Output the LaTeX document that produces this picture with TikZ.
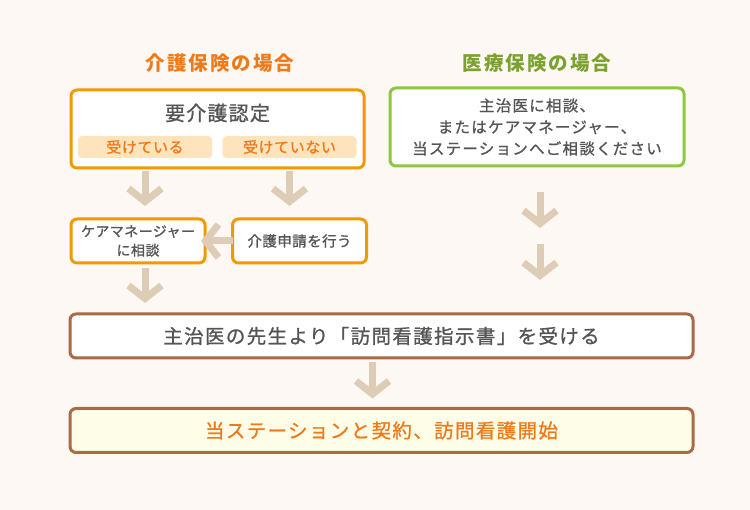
\documentclass[tikz,border=0pt]{standalone}
\usepackage{fontspec}
\setmainfont{Noto Sans CJK JP}
\usetikzlibrary{arrows.meta,positioning,calc}
\definecolor{bgcream}{HTML}{FDF8F3}
\definecolor{kaigoline}{HTML}{F39800}
\definecolor{kaigotext}{HTML}{EF7A1A}
\definecolor{iryoline}{HTML}{8DC63F}
\definecolor{iryotext}{HTML}{7BA22E}
\definecolor{flowtan}{HTML}{DDCCB6}
\definecolor{brownline}{HTML}{A86B48}
\definecolor{textgray}{HTML}{555555}
\definecolor{subfill}{HTML}{FDE4BC}
\definecolor{startfill}{HTML}{FEFEE8}
\newcommand\jpsize[3]{\fontsize{#1}{#2}\selectfont\addfontfeature{LetterSpace=#3,FakeBold=1}}

\begin{document}
\begin{tikzpicture}[
  x=1pt,y=1pt,
  title/.style={font=\bfseries\fontsize{19.5}{22}\selectfont\addfontfeature{LetterSpace=10}},
  box/.style={rectangle,rounded corners=6pt,line width=3pt,fill=white,
    align=center,text=textgray,outer sep=0pt},
  obox/.style={box,draw=kaigoline,minimum width=134,minimum height=44,
    font=\jpsize{14}{19}{3}},
  gbox/.style={box,draw=iryoline,font=\jpsize{15.5}{21.5}{8}},
  bbox/.style={box,draw=brownline,minimum width=623,minimum height=44,
    font=\jpsize{19.5}{22}{7}},
  subbox/.style={rectangle,rounded corners=4pt,fill=subfill,text=kaigotext,
    minimum width=134,minimum height=22,inner sep=0pt,
    font=\jpsize{15}{18}{4}},
  flow/.style={draw=flowtan,line width=7pt,
    -{Straight Barb[length=13pt,width=33pt]}}
]
  \fill[bgcream] (0,0) rectangle (750,510);
  \useasboundingbox (0,0) rectangle (750,510);

  \node[title,text=kaigotext] (kaigo) at (220,447) {介護保険の場合};
  \node[title,text=iryotext] (iryo) at (537,447) {医療保険の場合};

  \node[obox,minimum width=293,minimum height=78] (nintei) at (217.5,381) {};
  \node[text=textgray,font=\jpsize{20}{22}{6}] (nintei-t) at (217.5,397) {要介護認定};
  \node[subbox] (ukeru) at (145,363) {受けている};
  \node[subbox] (ukenai) at (289.5,363) {受けていない};

  \node[gbox,minimum width=294,minimum height=78] (soudan) at (537,383)
    {主治医に相談、\\またはケアマネージャー、\\当ステーションへご相談ください};

  \node[obox] (kea) at (138,269) {ケアマネージャー\\に相談};
  \node[obox,font=\jpsize{14.5}{18}{3}] (shinsei) at (299.5,269) {介護申請を行う};

  \node[bbox] (shiji) at (381.5,174) {主治医の先生より「訪問看護指示書」を受ける};
  \node[bbox,fill=startfill,text=kaigotext] (keiyaku) at (381.5,79.5)
    {当ステーションと契約、訪問看護開始};

  \coordinate (split) at (540,274);

  \draw[flow,shorten <=3pt,shorten >=13pt] (nintei.south -| ukeru) -- (kea.north -| ukeru);
  \draw[flow,shorten <=3pt,shorten >=13pt] (nintei.south -| ukenai) -- (shinsei.north -| ukenai);
  \draw[flow,shorten >=-4pt] (shinsei.west) -- (kea.east);
  \draw[flow,shorten <=5pt,shorten >=11pt] (kea.south -| ukeru) -- (shiji.north -| ukeru);
  \draw[flow,shorten <=26pt,shorten >=8pt] (soudan.south -| split) -- (split);
  \draw[flow,shorten <=8pt,shorten >=34pt] (split) -- (shiji.north -| split);
  \draw[flow,shorten <=4pt,shorten >=10pt] ([xshift=-9pt]shiji.south) -- ([xshift=-9pt]keiyaku.north);
\end{tikzpicture}
\end{document}
